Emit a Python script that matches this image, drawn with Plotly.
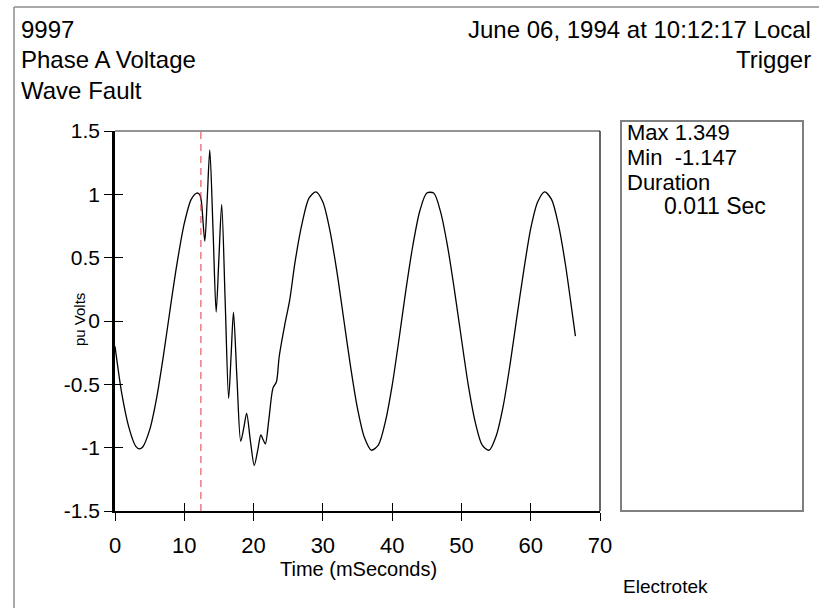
import plotly.graph_objects as go

# ---- data ----
time_ms = [0, 1, 2, 3, 3.54, 4, 5, 6, 7, 8, 9, 10, 11, 11.8, 12.2,
           12.45, 12.96, 13.3, 13.68, 14.15, 14.6, 15.0, 15.4, 15.9, 16.4,
           16.75, 17.1, 17.6, 18.15, 18.6, 19.0, 19.55, 20.1, 20.6, 21.05,
           21.4, 21.7, 22.2, 22.8, 23.3, 23.7, 24.5, 25.2, 26, 27, 28, 29,
           30, 31, 32, 33, 34, 35, 36, 37, 38, 39, 40, 41, 42, 43, 44, 45,
           46, 47, 48, 49, 50, 51, 52, 53, 54, 55, 56, 57, 58, 59, 60, 61,
           62, 63, 64, 65, 66, 66.45]
volts_pu = [-0.20, -0.58, -0.84, -0.99, -1.01, -0.995, -0.86, -0.61, -0.27, 0.11,
            0.47, 0.77, 0.96, 1.01, 1.0,
            0.95, 0.63, 0.95, 1.35, 0.72, 0.07, 0.50, 0.92, 0.16, -0.61,
            -0.28, 0.07, -0.45, -0.95, -0.84, -0.73, -0.95, -1.14, -1.02, -0.90,
            -0.94, -0.97, -0.78, -0.53, -0.48, -0.28, -0.03, 0.16, 0.47, 0.77, 0.97, 1.02,
            0.94, 0.72, 0.40, 0.02, -0.36, -0.69, -0.92, -1.02, -0.98, -0.80, -0.51, -0.14,
            0.25, 0.60, 0.87, 1.01, 1.01, 0.86, 0.59, 0.24, -0.14, -0.51, -0.80, -0.98,
            -1.02, -0.91, -0.68, -0.35, 0.03, 0.40, 0.73, 0.94, 1.02, 0.96, 0.76, 0.45,
            0.06, -0.12]
trigger_time = [12.4, 12.4]
trigger_span = [-1.5, 1.5]

x_ticks = [0, 10, 20, 30, 40, 50, 60, 70]
y_ticks = [-1.5, -1, -0.5, 0, 0.5, 1, 1.5]
y_tick_text = ["-1.5", "-1", "-0.5", "0", "0.5", "1", "1.5"]

header_left = ["9997", "Phase A Voltage", "Wave Fault"]
header_right = ["June 06, 1994 at 10:12:17 Local", "Trigger"]
stats_lines = ["Max 1.349", "Min\u00a0 -1.147", "Duration"]
stats_last = "0.011 Sec"
x_title = "Time (mSeconds)"
y_title = "pu Volts"
brand = "Electrotek"

FONT = "Arial, Liberation Sans, sans-serif"
W, H = 819, 608
L, R, T, B = 115, 600, 131, 511


def px(xp):
    return (xp - L) / (R - L)


def py(yp):
    return (B - yp) / (B - T)


fig = go.Figure()
fig.add_trace(go.Scatter(x=time_ms, y=volts_pu, mode="lines",
                         line=dict(color="black", width=1.3, shape="spline", smoothing=0.8),
                         hoverinfo="skip", showlegend=False))
fig.add_trace(go.Scatter(x=trigger_time, y=trigger_span, mode="lines",
                         line=dict(color="#e23a3f", width=1, dash="7px,5px"),
                         xaxis="x2", yaxis="y2", hoverinfo="skip", showlegend=False))

axis_common = dict(showgrid=False, zeroline=False, ticklen=8, tickwidth=1.2,
                   tickcolor="black")

fig.update_layout(
    width=W, height=H, autosize=False,
    margin=dict(l=L, r=W - R, t=T, b=H - B, pad=0),
    paper_bgcolor="white", plot_bgcolor="white",
    xaxis=dict(range=[0, 70], tickvals=x_ticks, ticks="outside", showline=True,
               linecolor="black", linewidth=2, ticklabelstandoff=6,
               tickfont=dict(family=FONT, size=22, color="black"), **axis_common),
    yaxis=dict(range=[-1.5, 1.5], tickvals=y_ticks, ticktext=y_tick_text, ticks="outside",
               showline=True, linecolor="black", linewidth=2.5, ticklabelstandoff=0,
               tickfont=dict(family=FONT, size=21, color="black"), **axis_common),
    xaxis2=dict(range=[0, 70], tickvals=x_ticks, ticks="inside", overlaying="x",
                anchor="y2", side="bottom", showticklabels=False, showline=False,
                **axis_common),
    yaxis2=dict(range=[-1.5, 1.5], tickvals=y_ticks, ticks="inside", overlaying="y",
                anchor="x2", side="left", showticklabels=False, showline=False,
                **axis_common),
)

shapes = [
    # page border (top and left)
    dict(type="line", xref="paper", yref="paper", x0=px(14), x1=px(830), y0=py(7), y1=py(7),
         line=dict(color="#8c8c8c", width=1.5)),
    dict(type="line", xref="paper", yref="paper", x0=px(14), x1=px(14), y0=py(7), y1=py(620),
         line=dict(color="#8c8c8c", width=1.5)),
    # plot frame top and right
    dict(type="line", xref="paper", yref="paper", x0=0, x1=1, y0=1, y1=1,
         line=dict(color="#707070", width=1.5)),
    dict(type="line", xref="paper", yref="paper", x0=1, x1=1, y0=0, y1=1,
         line=dict(color="black", width=1.2)),
    # stats box
    dict(type="rect", xref="paper", yref="paper", x0=px(621), x1=px(803), y0=py(511), y1=py(121),
         line=dict(color="#808080", width=2)),
]
fig.update_layout(shapes=shapes)

ann = []
hdr_y = [30, 60, 90]
for i, t in enumerate(header_left):
    ann.append(dict(text=t, x=px(19), y=py(hdr_y[i]), xanchor="left", yanchor="middle", size=24))
for i, t in enumerate(header_right):
    ann.append(dict(text=t, x=px(813), y=py(hdr_y[i]), xanchor="right", yanchor="middle", size=24))
box_y = [132, 157, 182]
for i, t in enumerate(stats_lines):
    ann.append(dict(text=t, x=px(625), y=py(box_y[i]), xanchor="left", yanchor="middle", size=22))
ann.append(dict(text=stats_last, x=px(662), y=py(206), xanchor="left", yanchor="middle", size=23))
ann.append(dict(text=brand, x=px(621), y=py(586), xanchor="left", yanchor="middle", size=19))
ann.append(dict(text=x_title, x=px(358), y=py(569), xanchor="center", yanchor="middle", size=20))
ann.append(dict(text=y_title, x=px(79), y=py(320), xanchor="center", yanchor="middle", size=15,
                textangle=-90))
final = []
for a in ann:
    s = a.pop("size")
    a.update(xref="paper", yref="paper", showarrow=False,
             font=dict(family=FONT, size=s, color="black"))
    final.append(a)
fig.update_layout(annotations=final)

fig.write_html("out.html")
